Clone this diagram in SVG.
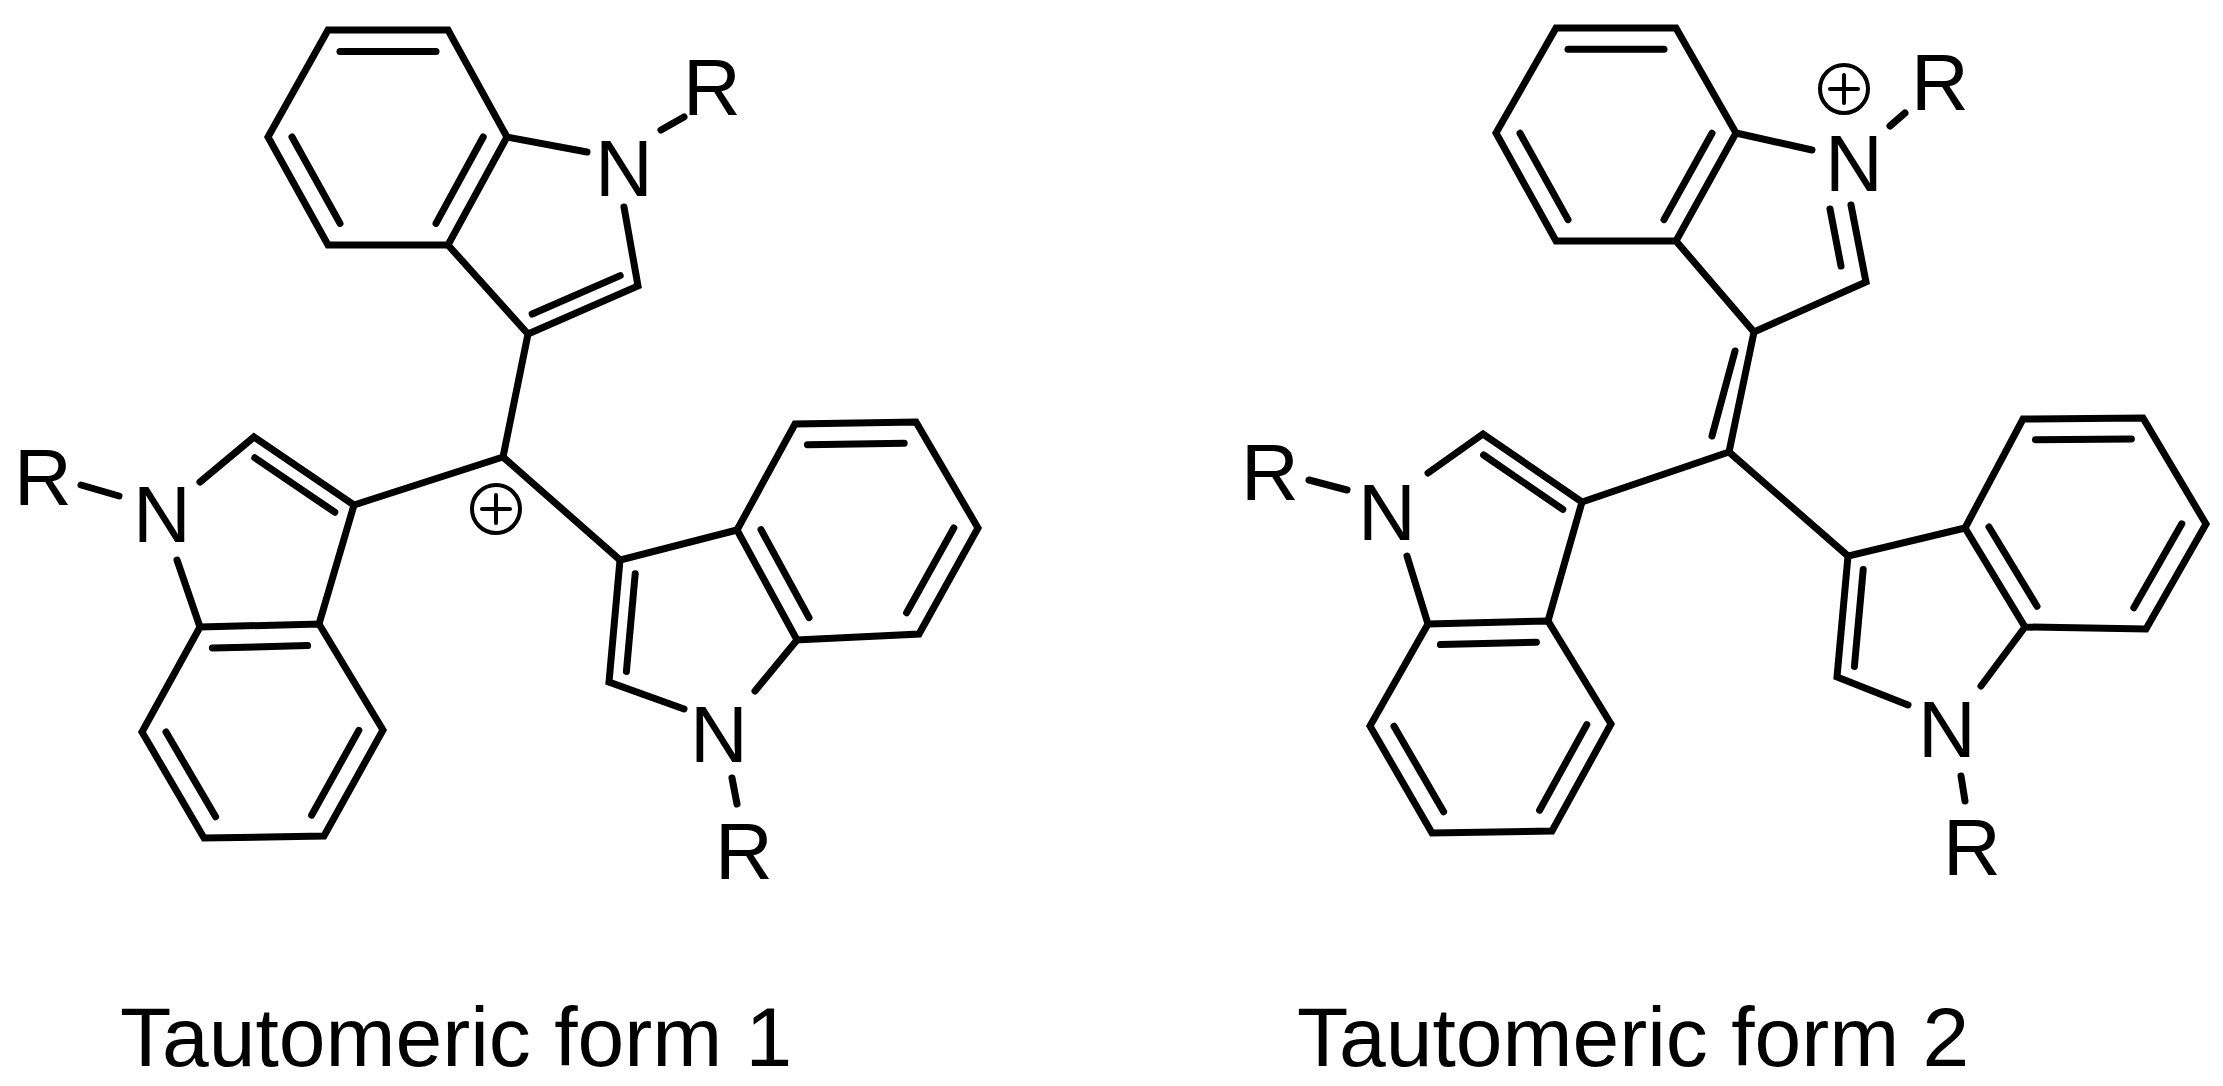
<svg xmlns="http://www.w3.org/2000/svg" width="2223" height="1086" viewBox="0 0 2223 1086">
<style>
line,polyline,polygon,circle{stroke:#000;stroke-width:7;fill:none;stroke-linecap:round;stroke-linejoin:miter}
.in line{vector-effect:non-scaling-stroke}
text{font-family:"Liberation Sans",Arial,sans-serif;font-size:80px;text-anchor:middle;fill:#000}
.cap{font-size:84px;text-anchor:start}
</style>
<rect width="2223" height="1086" fill="#fff"/>
<g id="form1">
<g id="f1-top">
<polygon points="328,30 448,30 507,137 448,245 328,245 268,137"/>
<g class="in" transform="translate(388 137) scale(.8) translate(-388 -137)"><line x1="328" y1="30" x2="448" y2="30"/><line x1="268" y1="137" x2="328" y2="245"/><line x1="507" y1="137" x2="448" y2="245"/></g>
<polyline points="507,137 587,152"/>
<polyline points="624,207 638,286 528,334 448,245"/>
<g class="in" transform="translate(549 234) scale(.8) translate(-549 -234)"><line x1="638" y1="286" x2="528" y2="334"/></g>
<line x1="661" y1="130" x2="684" y2="117"/>
<text x="624" y="196">N</text><text x="712" y="115">R</text>
</g>
<g id="f1-left">
<polygon points="200,627 319,624 383,730 324,836 204,838 142,732"/>
<g class="in" transform="translate(262 732) scale(.8) translate(-262 -732)"><line x1="200" y1="627" x2="319" y2="624"/><line x1="142" y1="732" x2="204" y2="838"/><line x1="383" y1="730" x2="324" y2="836"/></g>
<polyline points="200,482 254,437 354,505 319,624"/>
<line x1="177" y1="560" x2="200" y2="627"/>
<g class="in" transform="translate(258 541) scale(.8) translate(-258 -541)"><line x1="254" y1="437" x2="354" y2="505"/></g>
<line x1="81" y1="485" x2="119" y2="496"/>
<text x="162" y="542">N</text><text x="43" y="505">R</text>
</g>
<g id="f1-right">
<polygon points="737,530 795,424 916,422 978,528 919,634 797,640"/>
<g class="in" transform="translate(857 528) scale(.8) translate(-857 -528)"><line x1="795" y1="424" x2="916" y2="422"/><line x1="978" y1="528" x2="919" y2="634"/><line x1="737" y1="530" x2="797" y2="640"/></g>
<polyline points="737,530 620,560 609,682 684,709"/>
<line x1="755" y1="691" x2="797" y2="640"/>
<g class="in" transform="translate(696 629) scale(.8) translate(-696 -629)"><line x1="620" y1="560" x2="609" y2="682"/></g>
<line x1="732" y1="778" x2="737" y2="804"/>
<text x="719" y="762">N</text><text x="744" y="879">R</text>
</g>
<g id="f1-center">
<circle cx="496" cy="509" r="24" style="stroke-width:4"/>
<line x1="482" y1="509" x2="510" y2="509" style="stroke-width:4"/><line x1="496" y1="495" x2="496" y2="523" style="stroke-width:4"/>
</g>
</g>
<g id="form2">
<g id="f2-top">
<polygon points="1556,28 1676,28 1736,133 1676,241 1556,241 1496,133"/>
<g class="in" transform="translate(1616 134) scale(.8) translate(-1616 -134)"><line x1="1556" y1="28" x2="1676" y2="28"/><line x1="1496" y1="133" x2="1556" y2="241"/><line x1="1736" y1="133" x2="1676" y2="241"/></g>
<line x1="1736" y1="133" x2="1812" y2="150"/>
<polyline points="1851,205 1866,282 1754,332 1676,241"/>
<line x1="1830" y1="209" x2="1841" y2="266"/>
<line x1="1890" y1="126" x2="1905" y2="113"/>
<text x="1854" y="191">N</text><text x="1940" y="110">R</text>
<circle cx="1844" cy="89" r="24" style="stroke-width:4"/>
<line x1="1830" y1="89" x2="1858" y2="89" style="stroke-width:4"/><line x1="1844" y1="75" x2="1844" y2="103" style="stroke-width:4"/>
</g>
<g id="f2-left">
<polygon points="1428,624 1548,621 1611,724 1552,831 1432,833 1370,726"/>
<g class="in" transform="translate(1490 727) scale(.8) translate(-1490 -727)"><line x1="1428" y1="624" x2="1548" y2="621"/><line x1="1370" y1="726" x2="1432" y2="833"/><line x1="1611" y1="724" x2="1552" y2="831"/></g>
<polyline points="1428,473 1483,434 1582,502 1548,621"/>
<line x1="1407" y1="556" x2="1428" y2="624"/>
<g class="in" transform="translate(1486 539) scale(.8) translate(-1486 -539)"><line x1="1483" y1="434" x2="1582" y2="502"/></g>
<line x1="1309" y1="480" x2="1347" y2="490"/>
<text x="1387" y="540">N</text><text x="1270" y="500">R</text>
</g>
<g id="f2-right">
<polygon points="1965,528 2023,419 2143,418 2206,524 2146,629 2025,627"/>
<g class="in" transform="translate(2085 523) scale(.8) translate(-2085 -523)"><line x1="2023" y1="419" x2="2143" y2="418"/><line x1="2206" y1="524" x2="2146" y2="629"/><line x1="1965" y1="528" x2="2025" y2="627"/></g>
<polyline points="1965,528 1848,556 1837,677 1908,705"/>
<line x1="1981" y1="686" x2="2025" y2="627"/>
<g class="in" transform="translate(1924 624) scale(.8) translate(-1924 -624)"><line x1="1848" y1="556" x2="1837" y2="677"/></g>
<line x1="1961" y1="776" x2="1965" y2="801"/>
<text x="1947" y="757">N</text><text x="1972" y="875">R</text>
</g>
</g>
<g id="connectors">
<line x1="528" y1="334" x2="503" y2="457"/>
<line x1="503" y1="457" x2="354" y2="505"/>
<line x1="503" y1="457" x2="620" y2="560"/>
<line x1="1754" y1="332" x2="1729" y2="452"/>
<line x1="1735" y1="351" x2="1712" y2="436"/>
<line x1="1729" y1="452" x2="1582" y2="502"/>
<line x1="1729" y1="452" x2="1848" y2="556"/>
</g>
<text class="cap" x="120" y="1066">Tautomeric form 1</text>
<text class="cap" x="1297" y="1066">Tautomeric form 2</text>
</svg>
